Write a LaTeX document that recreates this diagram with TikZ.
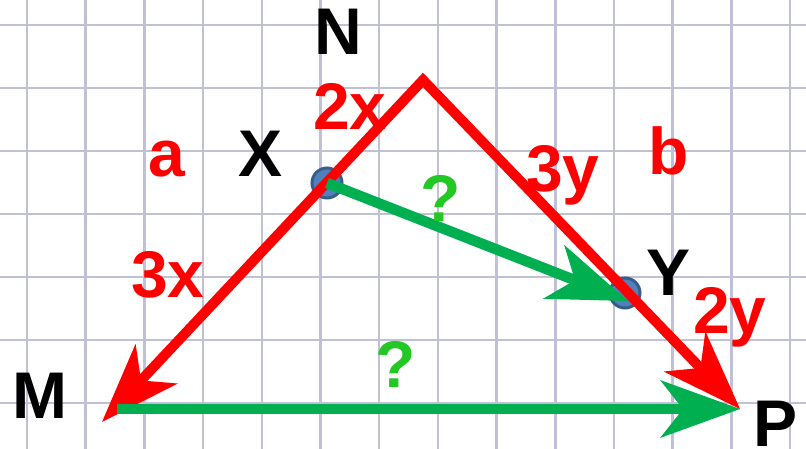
\documentclass[tikz,border=0pt]{standalone}
\usepackage{fontspec}
\setmainfont{Liberation Sans}
\usetikzlibrary{arrows.meta}
\usepackage{xcolor}

\definecolor{gridline}{RGB}{192,193,214}
\definecolor{vecred}{RGB}{255,0,0}
\definecolor{vecgreen}{RGB}{0,176,80}
\definecolor{askgreen}{RGB}{36,200,36}
\definecolor{dotfill}{RGB}{79,129,189}
\definecolor{dotedge}{RGB}{56,93,138}

\begin{document}
\begin{tikzpicture}[
    x=1pt, y=-1pt,
    gridl/.style = {draw=gridline, line width=2.5pt},
    headtip/.tip = {Stealth[length=80pt, width=58pt, inset=23pt, line width=0pt]},
    redvec/.style = {draw=vecred, line width=10pt, line join=miter, headtip-headtip},
    greenvec/.style = {draw=vecgreen, line width=10.5pt, -headtip},
    pointdot/.style = {circle, fill=dotfill, draw=dotedge, line width=3pt, minimum size=30pt, inner sep=0pt},
    biglabel/.style = {font=\fontsize{66}{66}\selectfont\bfseries, inner sep=0pt, anchor=base},
    vertexlabel/.style = {biglabel, text=black},
    sidelabel/.style = {biglabel, text=vecred},
    asklabel/.style = {biglabel, text=askgreen}
]
\useasboundingbox (0,0) rectangle (806,449);

% squared paper
\fill[white] (0,0) rectangle (806,449);
\foreach \i in {0,...,13}
    \draw[gridl] ({27+58.7*\i},0) -- ({27+58.7*\i},449);
\foreach \j in {0,...,6}
    \draw[gridl] (0,{25+63*\j}) -- (806,{25+63*\j});

% vertices and points on the sides
\coordinate (N) at (423,80);
\coordinate (M) at (102,422);
\coordinate (P) at (740,409);
\coordinate (X) at (327,183);
\coordinate (Y) at (625,293);
\coordinate (Mbase) at (117,409);
\coordinate (Yend) at (628,301);

\node (dotX) [pointdot] at (X) {};
\node (dotY) [pointdot] at (Y) {};

% sides of the triangle
\draw [redvec] (M) -- (N) -- (P);

% unknown vectors
\draw [greenvec] (X) -- (Yend);
\draw [greenvec] (Mbase) -- (P);

% labels
\node (labN) [vertexlabel] at (338,55) {N};
\node (labX) [vertexlabel] at (261,177) {X};
\node (labY) [vertexlabel] at (669,295) {Y};
\node (labM) [vertexlabel] at (40,418) {M};
\node (labP) [vertexlabel] at (776,446) {P};

\node (laba) [sidelabel] at (167,177) {a};
\node (labb) [sidelabel] at (669,175) {b};
\node (lab2x) [sidelabel] at (350,130) {2x};
\node (lab3x) [sidelabel] at (168,297) {3x};
\node (lab3y) [sidelabel] at (563,192) {3y};
\node (lab2y) [sidelabel] at (730,333) {2y};

\node (askXY) [asklabel] at (441,222) {?};
\node (askMP) [asklabel] at (396,387) {?};

\end{tikzpicture}
\end{document}
